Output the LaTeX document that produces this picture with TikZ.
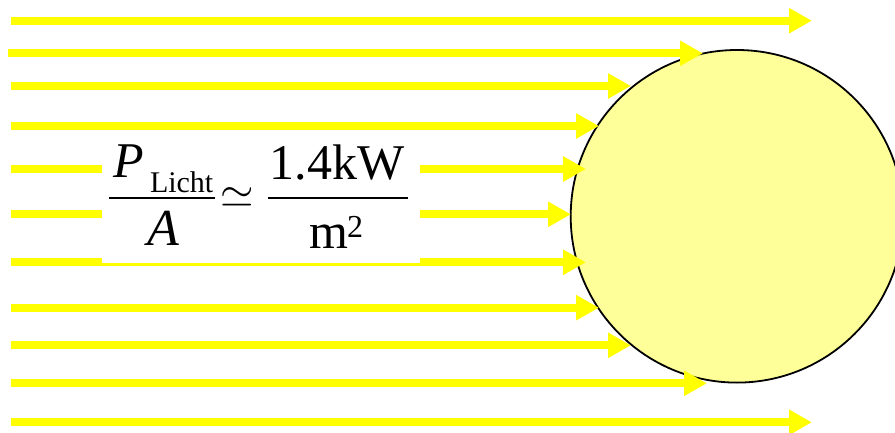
\documentclass[tikz,border=0pt]{standalone}
\usepackage{fontspec}
\usepackage{graphicx}
\setmainfont{Liberation Serif}
\usetikzlibrary{arrows.meta}
\definecolor{raycol}{HTML}{FFFF00}
\definecolor{sunfill}{HTML}{FFFF99}
\tikzset{
  raystyle/.style={draw=raycol, line width=8.3pt, -{Triangle[length=23pt,width=24pt]}},
  txt/.style={inner sep=0pt, outer sep=0pt},
  fracbar/.style={line width=2.5pt, draw=black},
}
\begin{document}
\begin{tikzpicture}[x=1pt,y=-1pt]
  \useasboundingbox (0,0) rectangle (895,433);
  % disc
  \node[circle, draw=black, line width=1.8pt, fill=sunfill, minimum size=332.6pt, inner sep=0pt] (disc) at (737,216.3) {};
  % rays
  \foreach \i/\s/\y/\t in {1/11/20.7/812, 2/8/53.3/703, 3/11/86/631, 4/11/126/599, 5/11/169/586,
                           6/11/214.3/571, 7/11/262.3/586, 8/11/307.7/599, 9/11/345.3/631,
                           10/11/383.3/707, 11/11/422.3/812}{
    \coordinate (s\i) at (\s,\y);
    \coordinate (e\i) at (\t,\y);
    \draw[raystyle] (s\i) -- (e\i);
  }
  % white box behind formula
  \node[rectangle, fill=white, minimum width=318.3pt, minimum height=132.3pt, inner sep=0pt] (box) at (260.85,197.15) {};
  % formula
  \node[txt, anchor=base west, font=\fontsize{50}{50}\selectfont\itshape] (P) at (113,178) {P};
  \node[txt, anchor=base west, font=\fontsize{30}{30}\selectfont] (sub) at (150,193) {Licht};
  \node[txt, anchor=base, font=\fontsize{52}{52}\selectfont\itshape] (A) at (163,245) {A};
  \coordinate (b1l) at (109,198);
  \coordinate (b1r) at (215,198);
  \draw[fracbar] (b1l) -- (b1r);
  \node[txt, anchor=base] (sim) at (237.5,207.5) {\scalebox{4.3}{$\simeq$}};
  \node[txt, anchor=base, font=\fontsize{50}{50}\selectfont] (num) at (337,180) {1.4kW};
  \coordinate (b2l) at (268,198);
  \coordinate (b2r) at (408,198);
  \draw[fracbar] (b2l) -- (b2r);
  \node[txt, anchor=base west, font=\fontsize{50}{50}\selectfont] (m) at (309,248) {m};
  \node[txt, anchor=base west, font=\fontsize{32}{32}\selectfont] (two) at (347,237) {2};
\end{tikzpicture}
\end{document}
